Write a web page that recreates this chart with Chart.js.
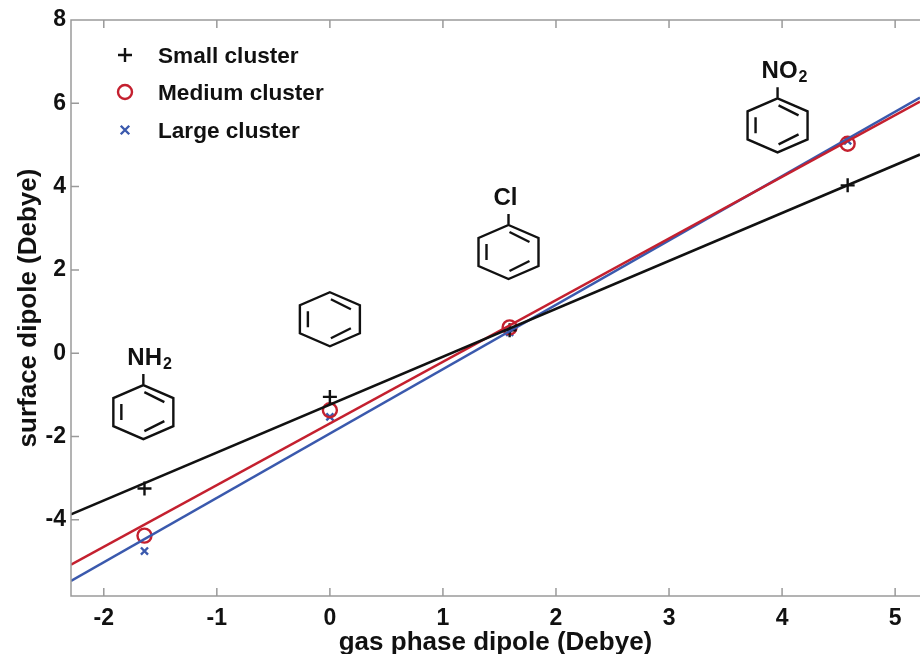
<!DOCTYPE html>
<html>
<head>
<meta charset="utf-8">
<script src="https://cdn.jsdelivr.net/npm/chart.js@4"></script>
<style>
html, body { margin: 0; padding: 0; background: #fff; overflow: hidden; }
#wrap { width: 920px; height: 654px; }
</style>
</head>
<body>
<div id="wrap"><canvas id="dipoleChart" width="920" height="654"></canvas></div>
<script>
// Values
const xTickValues = [-2, -1, 0, 1, 2, 3, 4, 5];
const yTickValues = [-4, -2, 0, 2, 4, 6, 8];
const gasPhase = [-1.64, 0, 1.59, 4.58];
const smallCluster = [-3.25, -1.05, 0.55, 4.03];
const mediumCluster = [-4.38, -1.37, 0.62, 5.03];
const largeCluster = [-4.75, -1.53, 0.5, 5.1];
const fitX = [-2.29, 5.22];
const smallFit = [-3.87, 4.77];
const mediumFit = [-5.08, 6.04];
const largeFit = [-5.47, 6.14];
const seriesNames = ['Small cluster', 'Medium cluster', 'Large cluster'];
const moleculeNames = ['NH', '', 'Cl', 'NO'];
const moleculeSubs = ['2', '', '', '2'];
const moleculeX = [-1.65, 0, 1.58, 3.96];
const moleculeY = [-1.415, 0.815, 2.43, 5.47];

const BLACK = '#111111';
const RED = '#c4202f';
const BLUE = '#3a59ad';
const AXIS = '#9a9a9a';
const FONT = '"Liberation Sans", Arial, sans-serif';

const toPoints = (xs, ys) => xs.map((x, i) => ({ x: x, y: ys[i] }));

function marker(label, ys, color, style, radius) {
    return {
        label: label,
        data: toPoints(gasPhase, ys),
        showLine: false,
        pointStyle: style,
        pointRadius: radius,
        pointBorderColor: color,
        pointBackgroundColor: 'transparent',
        pointBorderWidth: 2.4
    };
}

function fitLine(label, ys, color) {
    return {
        label: label,
        data: toPoints(fitX, ys),
        showLine: true,
        borderColor: color,
        borderWidth: 2.5,
        pointRadius: 0
    };
}

// Ticks point inward in the original, on the bottom/top and left side
const axisPlugin = {
    id: 'axisFrame',
    afterDraw(chart) {
        const { ctx, chartArea: a, scales: { x, y } } = chart;
        ctx.save();
        ctx.strokeStyle = AXIS;
        ctx.lineWidth = 1.5;
        ctx.beginPath();
        ctx.moveTo(a.right, a.top);
        ctx.lineTo(a.left, a.top);
        ctx.lineTo(a.left, a.bottom);
        ctx.lineTo(a.right, a.bottom);
        xTickValues.forEach(v => {
            const px = x.getPixelForValue(v);
            ctx.moveTo(px, a.bottom);
            ctx.lineTo(px, a.bottom - 8);
            ctx.moveTo(px, a.top);
            ctx.lineTo(px, a.top + 8);
        });
        yTickValues.forEach(v => {
            const py = y.getPixelForValue(v);
            ctx.moveTo(a.left, py);
            ctx.lineTo(a.left + 8, py);
        });
        ctx.stroke();
        ctx.restore();
    }
};

const legendPlugin = {
    id: 'insideLegend',
    afterDraw(chart) {
        const { ctx } = chart;
        const rows = [
            { y: 57, color: BLACK, style: 'cross', radius: 7 },
            { y: 94, color: RED, style: 'circle', radius: 7 },
            { y: 132, color: BLUE, style: 'crossRot', radius: 6 }
        ];
        ctx.save();
        ctx.font = 'bold 22.6px ' + FONT;
        ctx.textBaseline = 'middle';
        ctx.textAlign = 'left';
        rows.forEach((row, i) => {
            ctx.strokeStyle = row.color;
            ctx.fillStyle = 'transparent';
            ctx.lineWidth = 2.4;
            Chart.helpers.drawPoint(ctx, { pointStyle: row.style, radius: row.radius, rotation: 0, borderWidth: 2.4 }, 125, row.y - 2);
            ctx.fillStyle = BLACK;
            ctx.fillText(seriesNames[i], 158, row.y);
        });
        ctx.restore();
    }
};

// Benzene rings with their substituent, anchored on data coordinates
const moleculePlugin = {
    id: 'molecules',
    afterDatasetsDraw(chart) {
        const { ctx, scales: { x, y } } = chart;
        const outer = [[0, -27], [30, -14], [30, 14], [0, 27], [-30, 14], [-30, -14]];
        const inner = [[[1, -20], [21, -10]], [[1, 19], [21, 9]], [[-22, -8], [-22, 8]]];
        ctx.save();
        ctx.strokeStyle = BLACK;
        ctx.fillStyle = BLACK;
        ctx.lineWidth = 2.4;
        ctx.lineJoin = 'miter';
        moleculeX.forEach((mx, i) => {
            const cx = x.getPixelForValue(mx);
            const cy = y.getPixelForValue(moleculeY[i]);
            ctx.beginPath();
            outer.forEach((p, k) => {
                if (k === 0) ctx.moveTo(cx + p[0], cy + p[1]);
                else ctx.lineTo(cx + p[0], cy + p[1]);
            });
            ctx.closePath();
            inner.forEach(s => {
                ctx.moveTo(cx + s[0][0], cy + s[0][1]);
                ctx.lineTo(cx + s[1][0], cy + s[1][1]);
            });
            if (moleculeNames[i]) {
                ctx.moveTo(cx, cy - 27);
                ctx.lineTo(cx, cy - 38);
            }
            ctx.stroke();
            if (moleculeNames[i]) {
                ctx.font = 'bold 24px ' + FONT;
                ctx.textBaseline = 'alphabetic';
                ctx.textAlign = 'left';
                const w = ctx.measureText(moleculeNames[i]).width;
                const left = moleculeSubs[i] ? cx - 16 : cx - w / 2 - 3;
                ctx.fillText(moleculeNames[i], left, cy - 47);
                if (moleculeSubs[i]) {
                    ctx.font = 'bold 16px ' + FONT;
                    ctx.fillText(moleculeSubs[i], left + w + 1, cy - 43);
                }
            }
        });
        ctx.restore();
    }
};

new Chart(document.getElementById('dipoleChart').getContext('2d'), {
    type: 'scatter',
    data: {
        datasets: [
            fitLine('Small fit', smallFit, BLACK),
            fitLine('Medium fit', mediumFit, RED),
            fitLine('Large fit', largeFit, BLUE),
            marker(seriesNames[0], smallCluster, BLACK, 'cross', 7),
            marker(seriesNames[1], mediumCluster, RED, 'circle', 7),
            marker(seriesNames[2], largeCluster, BLUE, 'crossRot', 5)
        ]
    },
    options: {
        responsive: false,
        animation: false,
        layout: { autoPadding: false, padding: { top: 20, right: 0, left: 0, bottom: 0 } },
        plugins: {
            legend: { display: false },
            tooltip: { enabled: false }
        },
        scales: {
            x: {
                type: 'linear',
                min: -2.29,
                max: 5.22,
                afterBuildTicks: s => { s.ticks = xTickValues.map(v => ({ value: v })); },
                afterFit: s => { s.height = 58; s.paddingLeft = 0; s.paddingRight = 0; },
                grid: { drawOnChartArea: false, drawTicks: false },
                border: { display: false },
                ticks: {
                    color: BLACK,
                    padding: 9,
                    maxRotation: 0,
                    autoSkip: false,
                    font: { family: FONT, size: 23, weight: 'bold' },
                    callback: v => String(v)
                },
                title: {
                    display: true,
                    text: 'gas phase dipole (Debye)',
                    color: BLACK,
                    padding: { top: 0, bottom: -4 },
                    font: { family: FONT, size: 26, weight: 'bold' }
                }
            },
            y: {
                type: 'linear',
                min: -5.83,
                max: 8,
                afterBuildTicks: s => { s.ticks = yTickValues.map(v => ({ value: v })); },
                afterFit: s => { s.width = 71; s.paddingTop = 0; s.paddingBottom = 0; },
                grid: { drawOnChartArea: false, drawTicks: false },
                border: { display: false },
                ticks: {
                    color: BLACK,
                    padding: 5,
                    autoSkip: false,
                    font: { family: FONT, size: 23, weight: 'bold' },
                    callback: v => String(v)
                },
                title: {
                    display: true,
                    text: 'surface dipole (Debye)',
                    color: BLACK,
                    padding: { top: 13, bottom: 0 },
                    font: { family: FONT, size: 26, weight: 'bold' }
                }
            }
        }
    },
    plugins: [moleculePlugin, axisPlugin, legendPlugin]
});
</script>
</body>
</html>
